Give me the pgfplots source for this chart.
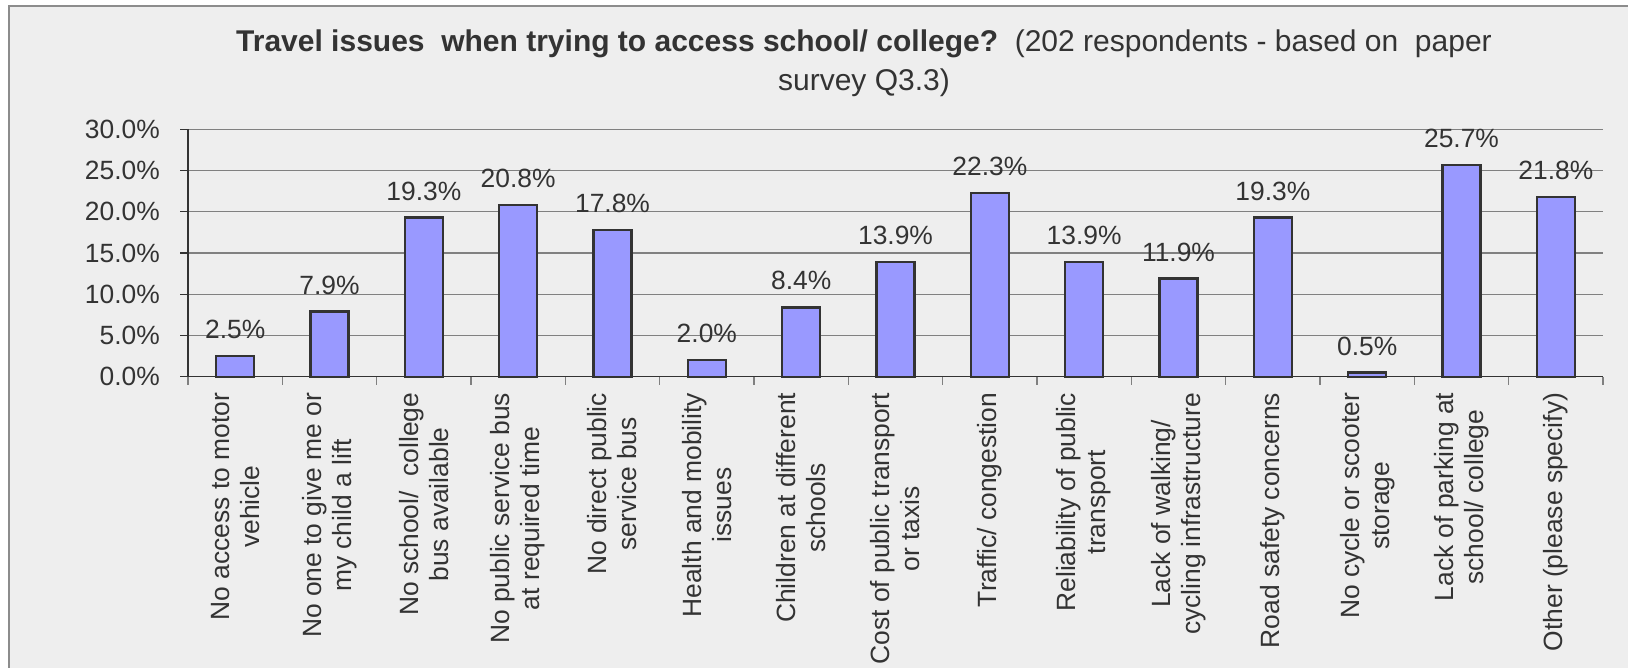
\documentclass[border=0pt]{standalone}
\usepackage{fontspec}
\setmainfont{Liberation Sans}
\usepackage{pgfplots}
\pgfplotsset{compat=1.18}
\definecolor{bg}{HTML}{EEEEEE}
\definecolor{frame}{HTML}{8C8C8C}
\definecolor{barfill}{HTML}{9999FF}
\definecolor{barline}{HTML}{333333}
\definecolor{txt}{HTML}{333333}
\definecolor{gridc}{HTML}{808080}
\newcommand{\lbl}{\fontsize{26.4}{30}\selectfont}
\begin{document}
\begin{tikzpicture}
\useasboundingbox (0,0) rectangle (1628pt,667pt);
\clip (0,0) rectangle (1628pt,667pt);
\fill[white] (0,0) rectangle (1628pt,667pt);
\draw[fill=bg, draw=frame, line width=1.5pt] (9pt,-20pt) rectangle (1660pt,661pt);
\node[anchor=base, text=txt, inner sep=0pt, font=\fontsize{30}{36}\selectfont] at (864pt,615pt) {\textbf{Travel issues\ \ when trying to access school/ college?}\ \ (202 respondents - based on\ \ paper};
\node[anchor=base, text=txt, inner sep=0pt, font=\fontsize{30}{36}\selectfont] at (864pt,576.5pt) {survey Q3.3)};
\begin{axis}[
  at={(188pt,290.3pt)}, anchor=south west,
  scale only axis, width=1415pt, height=247.4pt,
  xmin=-0.5, xmax=14.5, ymin=0, ymax=30,
  axis x line*=bottom, axis y line*=left,
  axis line style={draw=txt, line width=1.3pt},
  ybar, bar width=38pt,
  clip=false,
  /pgf/number format/assume math mode=true,
  xtick={0,...,14},
  xticklabels={{No access to motor\\vehicle},{No one to give me or\\my child a lift},{No school/\ \ college\\bus available},{No public service bus\\at required time},{No direct public\\service bus},{Health and mobility\\issues},{Children at different\\schools},{Cost of public transport\\or taxis},{Traffic/ congestion},{Reliability of public\\transport},{Lack of walking/\\cycling infrastructure},{Road safety concerns},{No cycle or scooter\\storage},{Lack of parking at\\school/ college},{Other (please specify)}},
  x tick style={draw=none},
  minor xtick={-0.5,0.5,...,14.5},
  minor x tick style={draw=gridc, line width=1.3pt},
  minor tick length=8pt,
  ytick={0,5,...,30},
  y tick style={draw=txt, line width=1.3pt},
  major tick length=8pt,
  tick align=outside,
  ymajorgrids, major grid style={draw=gridc, line width=1.2pt},
  yticklabel={\pgfmathprintnumber[fixed,fixed zerofill,precision=1]{\tick}\%},
  yticklabel style={font=\lbl, text=txt, anchor=east, inner sep=0pt, xshift=-20pt},
  xticklabel style={font=\lbl, text=txt, yshift=-8pt, rotate=90, anchor=east, align=center, inner sep=0pt},
  nodes near coords={\pgfmathprintnumber[fixed,fixed zerofill,precision=1]{\pgfplotspointmeta}\%},
  nodes near coords style={anchor=base, yshift=17.5pt, font=\lbl, text=txt, inner sep=0pt},
]
\addplot[fill=barfill, draw=barline, line width=2.2pt] coordinates {
(0,2.5) (1,7.9) (2,19.3) (3,20.8) (4,17.8) (5,2.0) (6,8.4) (7,13.9) (8,22.3) (9,13.9) (10,11.9) (11,19.3) (12,0.5) (13,25.7) (14,21.8)
};
\end{axis}
\end{tikzpicture}
\end{document}
